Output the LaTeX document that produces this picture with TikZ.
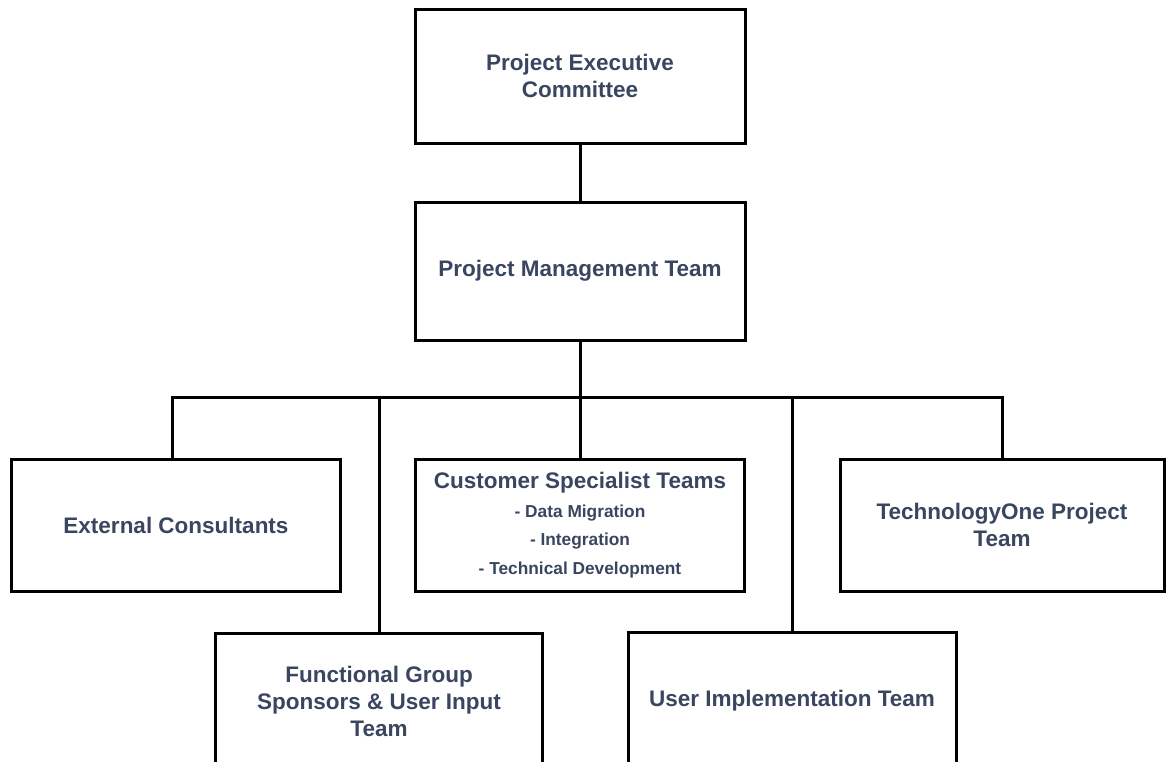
\documentclass[tikz,border=0pt]{standalone}
\usepackage{fontspec}
\setmainfont{Liberation Sans}[BoldFont={Liberation Sans Bold}]
\definecolor{txt}{RGB}{58,70,96}
\begin{document}
\begin{tikzpicture}[x=1pt,y=-1pt,
  box/.style={draw=black, line width=3pt, rectangle, inner sep=0pt, align=center,
    text=txt, font=\bfseries\fontsize{22.5}{27}\selectfont},
  subbox/.style={box, font=\bfseries\fontsize{17.3}{28.5}\selectfont},
  conn/.style={draw=black, line width=3pt}]
\useasboundingbox (0,0) rectangle (1166,761);
\clip (0,0) rectangle (1166,761);
\fill[white] (0,0) rectangle (1166,761);

\node[box, minimum width=330pt, minimum height=134pt] (exec) at (580,76) {Project Executive\\Committee};
\node[box, minimum width=330pt, minimum height=138pt] (pmt) at (580,271) {Project Management Team};

\node[box, minimum width=329pt, minimum height=132pt] (ext) at (176,525) {External Consultants};
\node[subbox, minimum width=329pt, minimum height=132pt] (cst) at (580,525)
  {{\fontsize{22.5}{27}\selectfont Customer Specialist Teams}\\- Data Migration\\- Integration\\- Technical Development};
\node[box, minimum width=324pt, minimum height=132pt] (tech) at (1002,525) {TechnologyOne Project\\Team};

\node[box, minimum width=327pt, minimum height=137pt] (func) at (379,701.5) {Functional Group\\Sponsors \& User Input\\Team};
\node[box, minimum width=328pt, minimum height=138pt] (user) at (792,701) {User Implementation Team};

\coordinate (bl) at (172,397);

\draw[conn] (exec.south) -- (pmt.north);
\draw[conn] (pmt.south) -- (cst.north);
\draw[conn] (bl |- ext.north) -- (bl) -- (bl -| tech.north) -- (tech.north);
\draw[conn] (bl -| func.north) -- (func.north);
\draw[conn] (bl -| user.north) -- (user.north);
\end{tikzpicture}
\end{document}
